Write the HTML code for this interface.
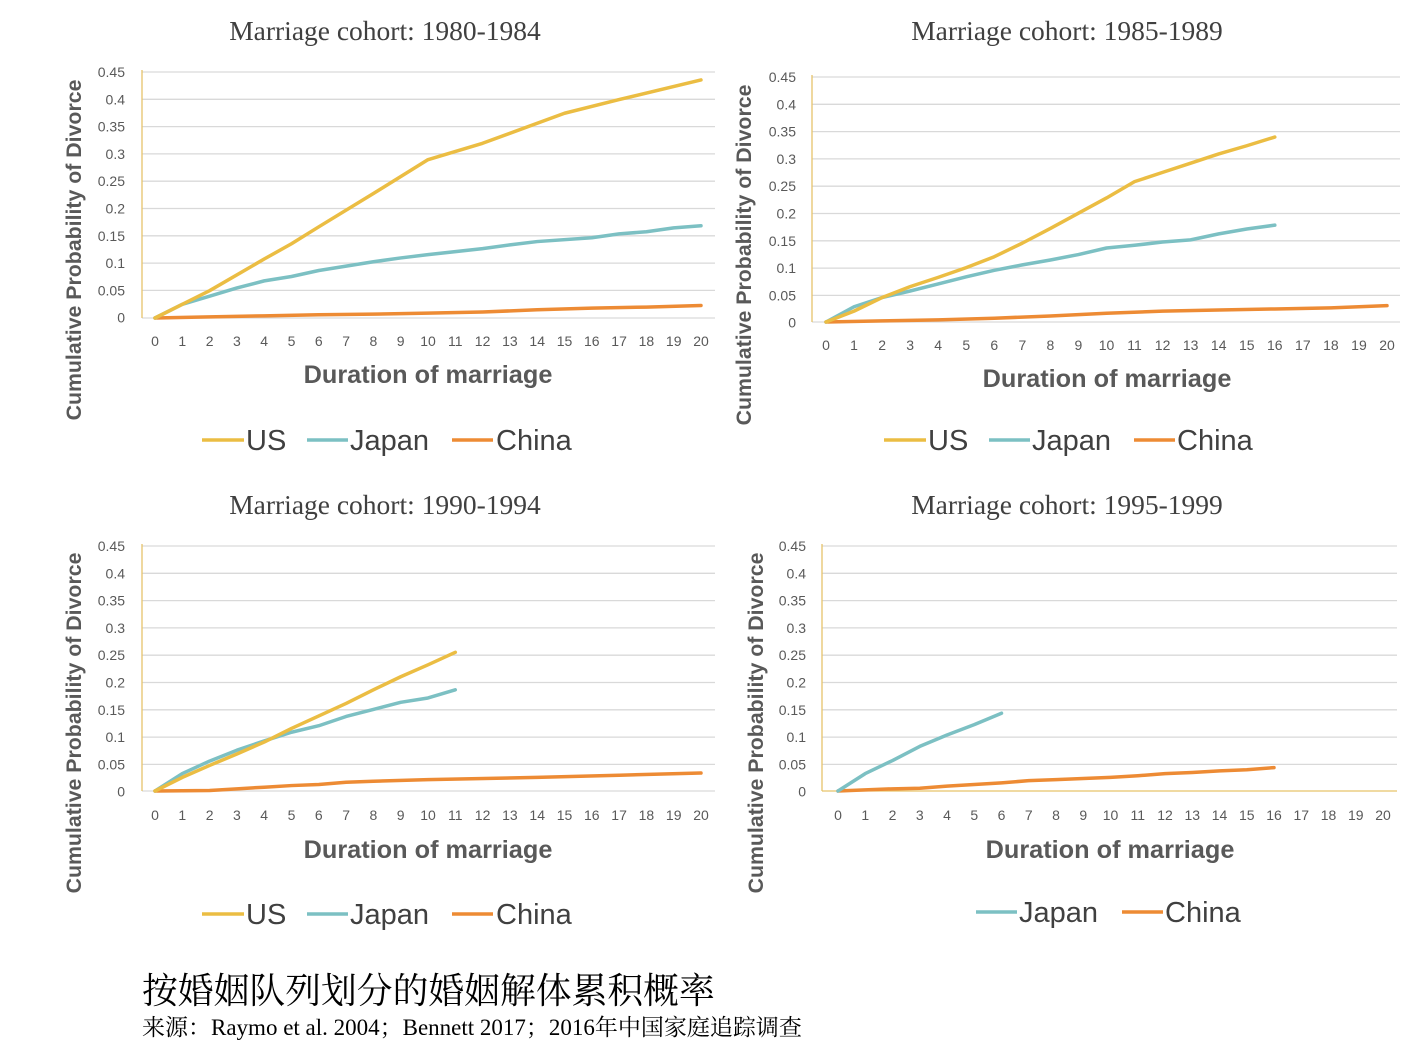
<!DOCTYPE html>
<html><head><meta charset="utf-8"><style>
body{margin:0;background:#fff;width:1412px;height:1050px;overflow:hidden}
svg{display:block}
.t{font-family:"Liberation Serif",serif;font-size:27.5px;fill:#404040;text-anchor:middle}
.yl{font-family:"Liberation Sans",sans-serif;font-size:21.3px;font-weight:bold;fill:#595959;text-anchor:middle}
.xl{font-family:"Liberation Sans",sans-serif;font-size:25.3px;font-weight:bold;fill:#595959;text-anchor:middle}
.lg{font-family:"Liberation Sans",sans-serif;font-size:29px;fill:#404040}
.tk{font-family:"Liberation Sans",sans-serif;font-size:14px;fill:#595959}
.yt{text-anchor:end}.xt{text-anchor:middle}
.g{stroke:#d9d9d9;stroke-width:1.3}
.s{fill:none;stroke-width:3.5;stroke-linejoin:round;stroke-linecap:round;vector-effect:non-scaling-stroke}
</style></head><body>
<svg width="1412" height="1050" viewBox="0 0 1412 1050">
<defs>
<g id="yt" class="tk yt">
<text x="0" y="0">0.45</text><text x="0" y="27.3">0.4</text><text x="0" y="54.6">0.35</text><text x="0" y="81.9">0.3</text><text x="0" y="109.2">0.25</text><text x="0" y="136.5">0.2</text><text x="0" y="163.8">0.15</text><text x="0" y="191.1">0.1</text><text x="0" y="218.4">0.05</text><text x="0" y="245.7">0</text>
</g>
</defs>

<!-- Chart A -->
<text class="t" x="385" y="40">Marriage cohort: 1980-1984</text>
<g class="g"><line x1="142" x2="715" y1="72" y2="72"/><line x1="142" x2="715" y1="99.3" y2="99.3"/><line x1="142" x2="715" y1="126.6" y2="126.6"/><line x1="142" x2="715" y1="153.9" y2="153.9"/><line x1="142" x2="715" y1="181.2" y2="181.2"/><line x1="142" x2="715" y1="208.5" y2="208.5"/><line x1="142" x2="715" y1="235.8" y2="235.8"/><line x1="142" x2="715" y1="263.1" y2="263.1"/><line x1="142" x2="715" y1="290.4" y2="290.4"/><line x1="142" x2="715" y1="318" y2="318"/></g>
<line x1="142" x2="142" y1="70" y2="318" stroke="#e6c46b" stroke-width="1.3"/>
<use href="#yt" x="125" y="77"/>
<g class="tk xt" transform="translate(155,346)"><text x="0">0</text><text x="27.3">1</text><text x="54.6">2</text><text x="81.9">3</text><text x="109.2">4</text><text x="136.5">5</text><text x="163.8">6</text><text x="191.1">7</text><text x="218.4">8</text><text x="245.7">9</text><text x="273">10</text><text x="300.3">11</text><text x="327.6">12</text><text x="354.9">13</text><text x="382.2">14</text><text x="409.5">15</text><text x="436.8">16</text><text x="464.1">17</text><text x="491.4">18</text><text x="518.7">19</text><text x="546">20</text></g>
<g transform="translate(155,318) scale(27.3,-546)">
<polyline class="s" stroke="#ED8B34" points="0,0 2,0.002 4,0.004 6,0.006 8,0.007 10,0.009 12,0.011 14,0.015 16,0.018 18,0.02 20,0.023"/>
<polyline class="s" stroke="#7CC0C3" points="0,0 1,0.025 2,0.04 3,0.055 4,0.068 5,0.076 6,0.087 7,0.095 8,0.103 9,0.11 10,0.116 12,0.127 13,0.134 14,0.14 16,0.147 17,0.154 18,0.158 19,0.165 20,0.169"/>
<polyline class="s" stroke="#EBBD43" points="0,0 1,0.025 2,0.05 4,0.108 5,0.136 6,0.167 8,0.228 10,0.29 12,0.32 15,0.375 17,0.4 20,0.436"/>
</g>
<text class="yl" transform="translate(81,250) rotate(-90)">Cumulative Probability of Divorce</text>
<text class="xl" x="428" y="383">Duration of marriage</text>
<g class="lg"><line x1="202" x2="244" y1="440" y2="440" stroke="#EBBD43" stroke-width="3.5"/><text x="246" y="450">US</text>
<line x1="307" x2="348" y1="440" y2="440" stroke="#7CC0C3" stroke-width="3.5"/><text x="350" y="450">Japan</text>
<line x1="452" x2="493" y1="440" y2="440" stroke="#ED8B34" stroke-width="3.5"/><text x="496" y="450">China</text></g>

<!-- Chart B -->
<text class="t" x="1067" y="40">Marriage cohort: 1985-1989</text>
<g class="g" transform="translate(0,5)"><line x1="812" x2="1400" y1="72" y2="72"/><line x1="812" x2="1400" y1="99.3" y2="99.3"/><line x1="812" x2="1400" y1="126.6" y2="126.6"/><line x1="812" x2="1400" y1="153.9" y2="153.9"/><line x1="812" x2="1400" y1="181.2" y2="181.2"/><line x1="812" x2="1400" y1="208.5" y2="208.5"/><line x1="812" x2="1400" y1="235.8" y2="235.8"/><line x1="812" x2="1400" y1="263.1" y2="263.1"/><line x1="812" x2="1400" y1="290.4" y2="290.4"/><line x1="812" x2="1400" y1="317" y2="317"/></g>
<line x1="812" x2="812" y1="75" y2="322" stroke="#e6c46b" stroke-width="1.3"/>
<use href="#yt" x="796" y="82"/>
<g class="tk xt" transform="translate(826,350)"><text x="0">0</text><text x="28.05">1</text><text x="56.1">2</text><text x="84.15">3</text><text x="112.2">4</text><text x="140.25">5</text><text x="168.3">6</text><text x="196.35">7</text><text x="224.4">8</text><text x="252.45">9</text><text x="280.5">10</text><text x="308.55">11</text><text x="336.6">12</text><text x="364.65">13</text><text x="392.7">14</text><text x="420.75">15</text><text x="448.8">16</text><text x="476.85">17</text><text x="504.9">18</text><text x="532.95">19</text><text x="561">20</text></g>
<g transform="translate(826,322) scale(28.05,-544)">
<polyline class="s" stroke="#ED8B34" points="0,0 2,0.002 4,0.004 6,0.007 8,0.011 10,0.016 12,0.02 14,0.022 16,0.024 18,0.026 20,0.03"/>
<polyline class="s" stroke="#7CC0C3" points="0,0 1,0.028 2,0.045 3,0.057 4,0.07 5,0.083 6,0.095 7,0.105 8,0.114 9,0.124 10,0.136 11,0.141 12,0.147 13,0.151 14,0.162 15,0.171 16,0.178"/>
<polyline class="s" stroke="#EBBD43" points="0,0 1,0.02 2,0.045 3,0.065 4,0.082 5,0.1 6,0.12 7,0.145 8,0.172 9,0.2 10,0.228 11,0.258 12,0.275 13,0.292 14,0.309 15,0.324 16,0.34"/>
</g>
<text class="yl" transform="translate(751,255) rotate(-90)">Cumulative Probability of Divorce</text>
<text class="xl" x="1107" y="387">Duration of marriage</text>
<g class="lg"><line x1="884" x2="926" y1="440" y2="440" stroke="#EBBD43" stroke-width="3.5"/><text x="928" y="450">US</text>
<line x1="989" x2="1030" y1="440" y2="440" stroke="#7CC0C3" stroke-width="3.5"/><text x="1032" y="450">Japan</text>
<line x1="1134" x2="1175" y1="440" y2="440" stroke="#ED8B34" stroke-width="3.5"/><text x="1177" y="450">China</text></g>

<!-- Chart C -->
<text class="t" x="385" y="514">Marriage cohort: 1990-1994</text>
<g class="g" transform="translate(0,474)"><line x1="142" x2="715" y1="72" y2="72"/><line x1="142" x2="715" y1="99.3" y2="99.3"/><line x1="142" x2="715" y1="126.6" y2="126.6"/><line x1="142" x2="715" y1="153.9" y2="153.9"/><line x1="142" x2="715" y1="181.2" y2="181.2"/><line x1="142" x2="715" y1="208.5" y2="208.5"/><line x1="142" x2="715" y1="235.8" y2="235.8"/><line x1="142" x2="715" y1="263.1" y2="263.1"/><line x1="142" x2="715" y1="290.4" y2="290.4"/><line x1="142" x2="715" y1="317" y2="317"/></g>
<line x1="142" x2="142" y1="544" y2="791" stroke="#e6c46b" stroke-width="1.3"/>
<use href="#yt" x="125" y="551"/>
<g class="tk xt" transform="translate(155,820)"><text x="0">0</text><text x="27.3">1</text><text x="54.6">2</text><text x="81.9">3</text><text x="109.2">4</text><text x="136.5">5</text><text x="163.8">6</text><text x="191.1">7</text><text x="218.4">8</text><text x="245.7">9</text><text x="273">10</text><text x="300.3">11</text><text x="327.6">12</text><text x="354.9">13</text><text x="382.2">14</text><text x="409.5">15</text><text x="436.8">16</text><text x="464.1">17</text><text x="491.4">18</text><text x="518.7">19</text><text x="546">20</text></g>
<g transform="translate(155,791) scale(27.3,-544)">
<polyline class="s" stroke="#ED8B34" points="0,0 2,0.001 3,0.004 4,0.007 5,0.01 6,0.012 7,0.016 8,0.018 10,0.021 14,0.025 17,0.029 20,0.033"/>
<polyline class="s" stroke="#7CC0C3" points="0,0 1,0.032 2,0.055 3,0.075 4,0.092 5,0.108 6,0.12 7,0.137 8,0.15 9,0.163 10,0.171 11,0.186"/>
<polyline class="s" stroke="#EBBD43" points="0,0 1,0.025 2,0.047 3,0.068 4,0.09 5,0.115 6,0.138 7,0.161 8,0.186 9,0.21 10,0.232 11,0.255"/>
</g>
<text class="yl" transform="translate(81,723) rotate(-90)">Cumulative Probability of Divorce</text>
<text class="xl" x="428" y="858">Duration of marriage</text>
<g class="lg"><line x1="202" x2="244" y1="914" y2="914" stroke="#EBBD43" stroke-width="3.5"/><text x="246" y="924">US</text>
<line x1="307" x2="348" y1="914" y2="914" stroke="#7CC0C3" stroke-width="3.5"/><text x="350" y="924">Japan</text>
<line x1="452" x2="493" y1="914" y2="914" stroke="#ED8B34" stroke-width="3.5"/><text x="496" y="924">China</text></g>

<!-- Chart D -->
<text class="t" x="1067" y="514">Marriage cohort: 1995-1999</text>
<g class="g" transform="translate(0,474)"><line x1="822" x2="1397" y1="72" y2="72"/><line x1="822" x2="1397" y1="99.3" y2="99.3"/><line x1="822" x2="1397" y1="126.6" y2="126.6"/><line x1="822" x2="1397" y1="153.9" y2="153.9"/><line x1="822" x2="1397" y1="181.2" y2="181.2"/><line x1="822" x2="1397" y1="208.5" y2="208.5"/><line x1="822" x2="1397" y1="235.8" y2="235.8"/><line x1="822" x2="1397" y1="263.1" y2="263.1"/><line x1="822" x2="1397" y1="290.4" y2="290.4"/></g>
<line x1="822" x2="1397" y1="791" y2="791" stroke="#e6c46b" stroke-width="1.3"/>
<line x1="822" x2="822" y1="544" y2="791" stroke="#e6c46b" stroke-width="1.3"/>
<use href="#yt" x="806" y="551"/>
<g class="tk xt" transform="translate(838,820)"><text x="0">0</text><text x="27.25">1</text><text x="54.5">2</text><text x="81.75">3</text><text x="109">4</text><text x="136.25">5</text><text x="163.5">6</text><text x="190.75">7</text><text x="218">8</text><text x="245.25">9</text><text x="272.5">10</text><text x="299.75">11</text><text x="327">12</text><text x="354.25">13</text><text x="381.5">14</text><text x="408.75">15</text><text x="436">16</text><text x="463.25">17</text><text x="490.5">18</text><text x="517.75">19</text><text x="545">20</text></g>
<g transform="translate(838,791) scale(27.25,-544)">
<polyline class="s" stroke="#ED8B34" points="0,0 1,0.002 2,0.004 3,0.005 4,0.009 5,0.012 6,0.015 7,0.019 8,0.021 9,0.023 10,0.025 11,0.028 12,0.032 13,0.034 14,0.037 15,0.039 16,0.043"/>
<polyline class="s" stroke="#7CC0C3" points="0,0 1,0.032 2,0.056 3,0.082 4,0.103 5,0.122 6,0.143"/>
</g>
<text class="yl" transform="translate(763,723) rotate(-90)">Cumulative Probability of Divorce</text>
<text class="xl" x="1110" y="858">Duration of marriage</text>
<g class="lg"><line x1="976" x2="1017" y1="912" y2="912" stroke="#7CC0C3" stroke-width="3.5"/><text x="1019" y="922">Japan</text>
<line x1="1122" x2="1163" y1="912" y2="912" stroke="#ED8B34" stroke-width="3.5"/><text x="1165" y="922">China</text></g>

<text x="142" y="1003" style="font-family:'Liberation Serif','Noto Serif CJK SC',serif;font-size:35.8px;fill:#000">按婚姻队列划分的婚姻解体累积概率</text>
<text x="142" y="1035" style="font-family:'Liberation Serif','Noto Serif CJK SC',serif;font-size:23px;fill:#000">来源：Raymo et al. 2004；Bennett 2017；2016年中国家庭追踪调查</text>
</svg>
</body></html>
